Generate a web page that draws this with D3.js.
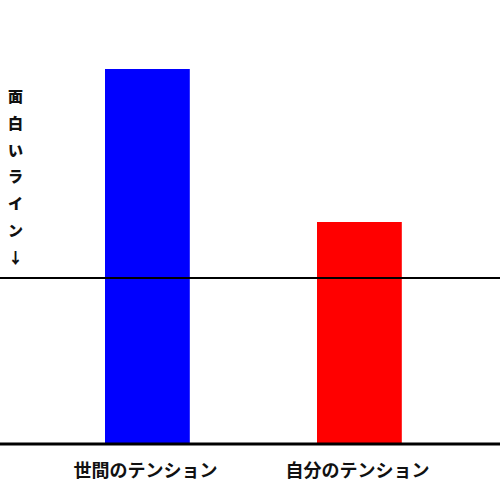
<!DOCTYPE html>
<html>
<head>
<meta charset="utf-8">
<script src="https://cdn.jsdelivr.net/npm/d3@7"></script>
<style>
  html, body { margin: 0; padding: 0; background: #fff; }
  text { font-family: "Noto Sans CJK JP", "Noto Sans", sans-serif; font-weight: bold; fill: #111; }
</style>
</head>
<body>
<div id="vis"></div>
<script>
const categories = ["世間のテンション", "自分のテンション"];
const values = [93.75, 55.5];
const colors = ["#0000ff", "#ff0000"];
const lineValue = 41.5;
const lineLabel = "面白いライン↓";

const svgWidth = 500,
  svgHeight = 500,
  baseY = 444;

const svg = d3
  .select("#vis")
  .append("svg")
  .attr("width", svgWidth)
  .attr("height", svgHeight);

const x = d3
  .scaleBand()
  .domain(categories)
  .range([41.4, 465.4])
  .paddingInner(0.6)
  .paddingOuter(0.3);

const y = d3.scaleLinear().domain([0, 100]).range([baseY, 44]);

// bars
svg
  .selectAll("rect.bar")
  .data(categories)
  .enter()
  .append("rect")
  .attr("class", "bar")
  .attr("x", (d) => x(d))
  .attr("width", x.bandwidth())
  .attr("y", (d, i) => y(values[i]))
  .attr("height", (d, i) => y(0) - y(values[i]))
  .attr("fill", (d, i) => colors[i]);

// "funny line"
svg
  .append("line")
  .attr("x1", 0)
  .attr("x2", svgWidth)
  .attr("y1", y(lineValue))
  .attr("y2", y(lineValue))
  .attr("stroke", "#000")
  .attr("stroke-width", 2);

// baseline
svg
  .append("line")
  .attr("x1", 0)
  .attr("x2", svgWidth)
  .attr("y1", y(0))
  .attr("y2", y(0))
  .attr("stroke", "#000")
  .attr("stroke-width", 3);

// category labels
svg
  .selectAll("text.cat")
  .data(categories)
  .enter()
  .append("text")
  .attr("class", "cat")
  .attr("x", (d) => x(d) + x.bandwidth() / 2 - 2)
  .attr("y", 468.5)
  .attr("text-anchor", "middle")
  .attr("dominant-baseline", "central")
  .style("font-size", "18px")
  .text((d) => d);

// vertical label, one character per row
svg
  .selectAll("text.vlabel")
  .data(Array.from(lineLabel))
  .enter()
  .append("text")
  .attr("class", "vlabel")
  .attr("x", 15.5)
  .attr("y", (d, i) => 95.5 + i * 26.8)
  .attr("text-anchor", "middle")
  .attr("dominant-baseline", "central")
  .style("font-size", "15px")
  .style("font-weight", 900)
  .text((d) => d);
</script>
</body>
</html>
